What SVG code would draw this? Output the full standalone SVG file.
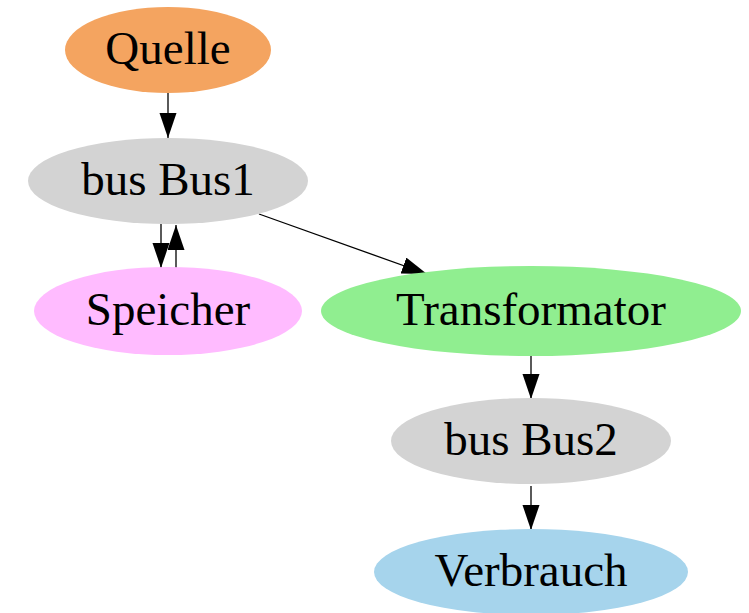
<svg xmlns="http://www.w3.org/2000/svg" width="749" height="613" viewBox="0 0 749 613">
<style>
text{font-family:"Liberation Serif","Times New Roman",serif;font-size:47px;fill:#000;text-anchor:middle}
.e{stroke:#000;stroke-width:1.3;fill:none}
</style>
<defs>
<marker id="ah" markerUnits="userSpaceOnUse" markerWidth="26" markerHeight="18" refX="25" refY="8.5" orient="auto">
<path d="M0,0 L25,8.5 L0,17 z" fill="#000"/>
</marker>
</defs>
<rect width="749" height="613" fill="#fff"/>
<g id="connectors">
<line class="e" x1="168" y1="93" x2="168" y2="138" marker-end="url(#ah)"/>
<line class="e" x1="161" y1="224" x2="161" y2="268" marker-end="url(#ah)"/>
<line class="e" x1="176" y1="268" x2="176" y2="225" marker-end="url(#ah)"/>
<line class="e" x1="259" y1="214" x2="427" y2="274" marker-end="url(#ah)"/>
<line class="e" x1="531" y1="356" x2="531" y2="399" marker-end="url(#ah)"/>
<line class="e" x1="531" y1="486" x2="531" y2="530" marker-end="url(#ah)"/>
</g>
<g id="Quelle"><ellipse cx="168" cy="50" rx="103" ry="43" fill="#f4a460"/><text x="168" y="64">Quelle</text></g>
<g id="Bus1"><ellipse cx="168" cy="181" rx="140" ry="43" fill="#d3d3d3"/><text x="168" y="195">bus Bus1</text></g>
<g id="Speicher"><ellipse cx="168" cy="311" rx="134" ry="44" fill="#ffbbff"/><text x="168" y="325">Speicher</text></g>
<g id="Transformator"><ellipse cx="531" cy="311" rx="210" ry="45" fill="#90ee90"/><text x="531" y="325">Transformator</text></g>
<g id="Bus2"><ellipse cx="531" cy="441" rx="140" ry="43" fill="#d3d3d3"/><text x="531" y="455">bus Bus2</text></g>
<g id="Verbrauch"><ellipse cx="531" cy="572" rx="157" ry="43" fill="#a6d4ec"/><text x="531" y="586">Verbrauch</text></g>
</svg>
